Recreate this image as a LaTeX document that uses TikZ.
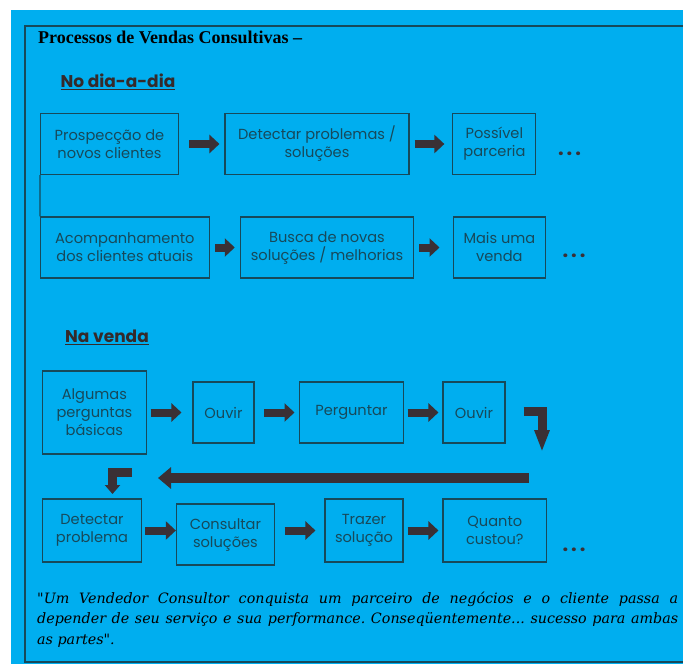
\documentclass[tikz,border=0pt]{standalone}
\usepackage{fontspec}
\usepackage{xcolor}
\usetikzlibrary{arrows.meta}
\newfontfamily\boxfont{Poppins}
\newfontfamily\titlefont{Liberation Serif}
\newfontfamily\quotefont{DejaVu Serif}
\definecolor{skyblue}{HTML}{00AEEF}
\definecolor{boxline}{HTML}{17495A}
\definecolor{arrowgray}{HTML}{3A3035}
\definecolor{headbrown}{HTML}{352A2A}

\begin{document}
\begin{tikzpicture}[x=1pt, y=-1pt,
    stage/.style={draw=boxline, line width=1.1pt, text=boxline, align=center, inner sep=0pt, minimum height=61pt, font=\boxfont\fontsize{14.6}{18}\selectfont},
    heading/.style={text=headbrown, font=\boxfont\bfseries\fontsize{17}{19}\selectfont},
    dots/.style={text=arrowgray, inner sep=0pt, font=\boxfont\bfseries\fontsize{20}{20}\selectfont},
    blk/.style={arrowgray, line width=8pt, -{Triangle[length=10pt, width=18pt]}},
    bentR/.style={arrowgray, line width=9pt, -{Triangle[length=22pt, width=14pt]}},
    bentL/.style={arrowgray, line width=9pt, -{Triangle[length=9pt, width=15pt]}},
    back/.style={arrowgray, line width=10pt, -{Triangle[length=13pt, width=21pt]}}
]
    \useasboundingbox (0,0) rectangle (683,664);
    \fill[white] (0,0) rectangle (683,664);
    \fill[skyblue] (11,10) rectangle (683,664);
    \draw[boxline, line width=2pt] (683,25.5) -- (24.5,25.5) -- (24.5,662) -- (683,662);

    \node[anchor=base west, inner sep=0pt, font=\titlefont\bfseries\fontsize{18}{20}\selectfont] (title) at (38,43.5) {Processos de Vendas Consultivas –};

    % No dia-a-dia
    \node[heading] (daily) at (118,82) {\underline{No dia-a-dia}};
    \node[stage, minimum width=138pt] (prosp) at (109.5,144) {Prospecção de\\novos clientes};
    \node[stage, minimum width=184pt] (detect) at (317,144) {Detectar problemas /\\soluções};
    \node[stage, minimum width=83pt] (parc) at (494.4,144) {Possível\\parceria};
    \node[dots] (more1) at (569.5,154) {.\kern3pt.\kern3pt.};

    \node[stage, minimum width=168.5pt] (acomp) at (124.8,247.5) {Acompanhamento\\dos clientes atuais};
    \node[stage, minimum width=173.4pt] (busca) at (327,247.5) {Busca de novas\\soluções / melhorias};
    \node[stage, minimum width=92.7pt] (venda) at (499.4,247.5) {Mais uma\\venda};
    \node[dots] (more2) at (574,256) {.\kern3pt.\kern3pt.};

    \draw[boxline, line width=1.1pt] (prosp.south west) -- (acomp.north west);
    \draw[blk, shorten <=10pt, shorten >=5pt] (prosp) -- (prosp -| detect.west);
    \draw[blk, shorten <=5pt, shorten >=8pt] (detect) -- (detect -| parc.west);
    \draw[blk, shorten <=5.7pt, shorten >=5pt] (acomp) -- (acomp -| busca.west);
    \draw[blk, shorten <=5pt, shorten >=13pt] (busca) -- (busca -| venda.west);

    % Na venda
    \node[heading] (sale) at (107,337) {\underline{Na venda}};
    \node[stage, minimum width=103.3pt, minimum height=83pt] (basic) at (94.4,412.5) {Algumas\\perguntas\\básicas};
    \node[stage, minimum width=61pt] (ouvirA) at (223.5,412.5) {Ouvir};
    \node[stage, minimum width=103.3pt] (ask) at (351.4,412.5) {Perguntar};
    \node[stage, minimum width=62pt] (ouvirB) at (474,412.5) {Ouvir};

    \node[stage, minimum width=98.8pt, minimum height=63pt] (problem) at (92,530.5) {Detectar\\problema};
    \node[stage, minimum width=98pt] (consult) at (225.4,534.5) {Consultar\\soluções};
    \node[stage, minimum width=78pt, minimum height=63pt] (bring) at (364,530.5) {Trazer\\solução};
    \node[stage, minimum width=103.6pt, minimum height=63pt] (cost) at (494.8,530.5) {Quanto\\custou?};
    \node[dots] (more3) at (574,550) {.\kern3pt.\kern3pt.};

    \draw[blk, shorten <=4pt, shorten >=11pt] (basic) -- (basic -| ouvirA.west);
    \draw[blk, shorten <=9.5pt, shorten >=4.7pt] (ouvirA) -- (ouvirA -| ask.west);
    \draw[blk, shorten <=4pt, shorten >=4pt] (ask) -- (ask -| ouvirB.west);

    \coordinate (downA) at (542,452);
    \coordinate (backR) at (529,478);
    \coordinate (backL) at (158,478);
    \coordinate (turnB) at (132,472.5);
    \coordinate (downB) at (112.5,494);
    \draw[bentR] ([xshift=18pt,yshift=1.5pt]ouvirB.east) -| (downA);
    \draw[back] (backR) -- (backL);
    \draw[bentL] (turnB) -| (downB);

    \draw[blk, shorten <=3.5pt] (problem) -- (problem -| consult.west);
    \draw[blk, shorten <=9.6pt, shorten >=9pt] (bring -| consult.east) -- (bring);
    \draw[blk, shorten <=4pt, shorten >=4pt] (bring) -- (bring -| cost.west);

    \node[anchor=base west, text width=641pt, align=justify, inner sep=0pt, font=\quotefont\itshape\fontsize{14.3}{20.5}\selectfont] (quote) at (37,603) {\frenchspacing"Um Vendedor Consultor conquista um parceiro de negócios e o cliente passa a\linebreak depender de seu serviço e sua performance. Conseqüentemente... sucesso para ambas\linebreak as partes".};
\end{tikzpicture}
\end{document}
